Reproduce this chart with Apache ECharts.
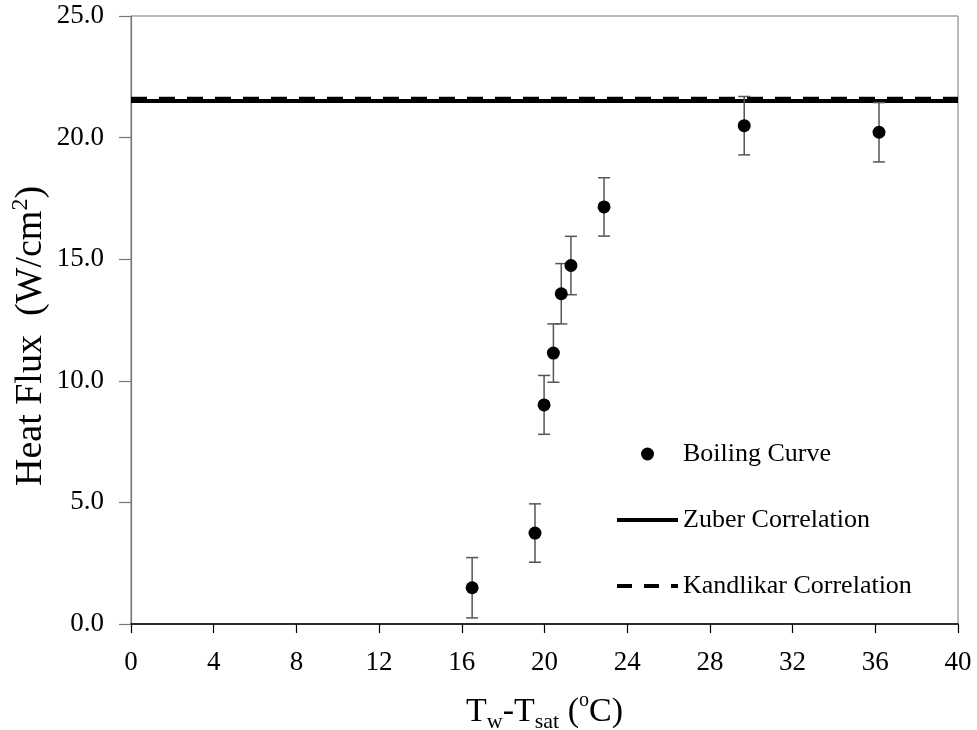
<!DOCTYPE html>
<html>
<head>
<meta charset="utf-8">
<script src="https://cdn.jsdelivr.net/npm/echarts@6/dist/echarts.min.js"></script>
<style>html,body{margin:0;padding:0;background:#fff}#c{width:977px;height:730px}</style>
</head>
<body>
<div id="c"></div>
<script>
// ---- data ----
const xVals = [16.5, 19.54, 19.98, 20.43, 20.81, 21.28, 22.88, 29.66, 36.18];
const yVals = [1.49, 3.74, 9.01, 11.14, 13.58, 14.74, 17.15, 20.49, 20.22];
const errVals = [1.24, 1.2, 1.21, 1.2, 1.24, 1.2, 1.2, 1.2, 1.22];
const zuberValue = 21.5;
const kandlikarValue = 21.6;
const xRange = [0, 40];
const seriesNames = ['Boiling Curve', 'Zuber Correlation', 'Kandlikar Correlation'];

const FONT = "'Liberation Serif', 'Times New Roman', serif";
const chart = echarts.init(document.getElementById('c'), null, {renderer: 'canvas'});

const pointData = xVals.map((x, i) => [x, yVals[i]]);
const errData = xVals.map((x, i) => [x, yVals[i] - errVals[i], yVals[i] + errVals[i]]);

const option = {
  animation: false,
  backgroundColor: '#fff',
  grid: {left: 131, right: 19, top: 16, bottom: 106, outerBoundsMode: 'none', containLabel: false,
         show: true, borderColor: '#777', borderWidth: 1},
  legend: {
    orient: 'vertical', left: 615, top: 441, padding: 0,
    itemWidth: 61, itemHeight: 13, itemGap: 40,
    textStyle: {fontFamily: FONT, fontSize: 26, color: '#000', lineHeight: 26},
    data: [
      {name: seriesNames[0], icon: 'circle'},
      {name: seriesNames[1], itemStyle: {opacity: 0}, lineStyle: {width: 4, color: '#000'}},
      {name: seriesNames[2], itemStyle: {opacity: 0}, lineStyle: {width: 4, color: '#000', type: [15, 12]}}
    ]
  },
  xAxis: {
    type: 'value', min: 0, max: 40, interval: 4,
    axisLine: {lineStyle: {color: '#000', width: 1.5}},
    axisTick: {length: 9, lineStyle: {color: '#000', width: 1.2}},
    axisLabel: {fontFamily: FONT, fontSize: 27, color: '#000', margin: 25},
    splitLine: {show: false},
    name: '{t|T}{sub|w}{t|-T}{sub|sat}{t| (}{sup|o}{t|C)}',
    nameLocation: 'middle', nameGap: 67, nameMoveOverlap: false,
    nameTextStyle: {
      rich: {
        t: {fontFamily: FONT, fontSize: 34, color: '#000', lineHeight: 42, verticalAlign: 'middle'},
        sub: {fontFamily: FONT, fontSize: 22, color: '#000', lineHeight: 22, verticalAlign: 'bottom'},
        sup: {fontFamily: FONT, fontSize: 20, color: '#000', lineHeight: 20, verticalAlign: 'top'}
      }
    }
  },
  yAxis: {
    type: 'value', min: 0, max: 25, interval: 5,
    axisLine: {lineStyle: {color: '#777', width: 1.2}},
    axisTick: {length: 12, lineStyle: {color: '#777', width: 1.2}},
    axisLabel: {fontFamily: FONT, fontSize: 27, color: '#000', margin: 27, formatter: v => v.toFixed(1)},
    splitLine: {show: false},
    name: '{t|Heat Flux  (W/cm}{sup|2}{t|)}',
    nameLocation: 'middle', nameGap: 78, nameMoveOverlap: false,
    nameTextStyle: {
      padding: [0, 32, 0, 0],
      rich: {
        t: {fontFamily: FONT, fontSize: 38, color: '#000', lineHeight: 44, verticalAlign: 'middle'},
        sup: {fontFamily: FONT, fontSize: 24, color: '#000', lineHeight: 24, verticalAlign: 'top'}
      }
    }
  },
  series: [
    {
      name: seriesNames[1], type: 'line', symbol: 'none', z: 3,
      lineStyle: {color: '#000', width: 4},
      itemStyle: {color: '#000'},
      data: xRange.map(x => [x, zuberValue])
    },
    {
      name: seriesNames[2], type: 'line', symbol: 'none', z: 4,
      lineStyle: {color: '#000', width: 4, type: [16, 12]},
      itemStyle: {color: '#000'},
      data: xRange.map(x => [x, kandlikarValue])
    },
    {
      name: 'err', type: 'custom', z: 5,
      renderItem: function (params, api) {
        const x = api.value(0);
        const lo = api.coord([x, api.value(1)]);
        const hi = api.coord([x, api.value(2)]);
        const hw = 6;
        const st = {stroke: '#555', lineWidth: 1.5};
        return {type: 'group', children: [
          {type: 'line', shape: {x1: lo[0], y1: lo[1], x2: hi[0], y2: hi[1]}, style: st},
          {type: 'line', shape: {x1: lo[0] - hw, y1: lo[1], x2: lo[0] + hw, y2: lo[1]}, style: st},
          {type: 'line', shape: {x1: hi[0] - hw, y1: hi[1], x2: hi[0] + hw, y2: hi[1]}, style: st}
        ]};
      },
      encode: {x: 0, y: [1, 2]},
      data: errData
    },
    {
      name: seriesNames[0], type: 'scatter', symbol: 'circle', symbolSize: 13, z: 6,
      itemStyle: {color: '#000', opacity: 1},
      data: pointData
    }
  ]
};
chart.setOption(option);
</script>
</body>
</html>
